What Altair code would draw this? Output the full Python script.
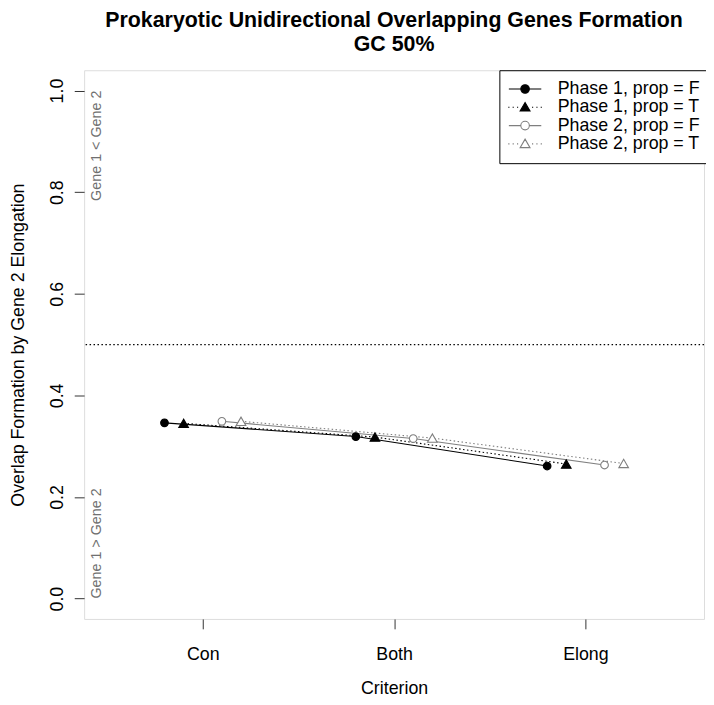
import altair as alt
import pandas as pd

# ---- data ----
criteria = ["Con", "Both", "Elong"]
series_names = ["Phase 1, prop = F", "Phase 1, prop = T", "Phase 2, prop = F", "Phase 2, prop = T"]
phase1_propF = [0.346, 0.319, 0.261]
phase1_propT = [0.345, 0.318, 0.265]
phase2_propF = [0.349, 0.315, 0.263]
phase2_propT = [0.349, 0.316, 0.266]
reference_level = [0.5]
y_ticks = [0.0, 0.2, 0.4, 0.6, 0.8, 1.0]

series_values = [phase1_propF, phase1_propT, phase2_propF, phase2_propT]

# ---- styles ----
FONT = "Liberation Sans"
GRAY = "#7f7f7f"
dodge = [-0.2, -0.1, 0.1, 0.2]
line_colors = ["black", "black", GRAY, GRAY]
dashes = [None, [1.5, 2.5], None, [1.5, 2.5]]
shapes = ["circle", "triangle-up", "circle", "triangle-up"]
fills = ["black", "black", "white", "white"]
sizes = [60, 95, 60, 95]

# legend glyphs: line (solid or dotted) through the marker
solid_seg = "M-4.1,0H-1.1M1.1,0H4.1"
dotted_seg = "M-4.25,0H-3.95M-3.15,0H-2.85M-2.05,0H-1.75M1.75,0H2.05M2.85,0H3.15M3.95,0H4.25"
circ = "M1.08,0A1.08,1.08,0,1,1,-1.08,0A1.08,1.08,0,1,1,1.08,0Z"
tri = "M0,-1.2L1.25,0.95L-1.25,0.95Z"
legend_paths = [solid_seg + circ, dotted_seg + tri, solid_seg + circ, dotted_seg + tri]

rows = []
for s, name in enumerate(series_names):
    for i, crit in enumerate(criteria):
        rows.append({"series": name, "crit": crit, "idx": i + 1,
                     "off": dodge[s], "value": series_values[s][i]})
df = pd.DataFrame(rows)

x_enc = alt.X("xpos:Q",
              scale=alt.Scale(domain=[0.38, 3.62], nice=False, zero=False),
              axis=alt.Axis(values=[1, 2, 3],
                            labelExpr="['', 'Con', 'Both', 'Elong'][datum.value]",
                            title="Criterion", titleFontSize=18, titleFont=FONT,
                            titleFontWeight="normal", titleColor="black",
                            titleY=61, titleBaseline="top",
                            labelFontSize=18, labelFont=FONT, labelColor="black",
                            labelPadding=17, tickSize=10, tickColor="#333",
                            domain=False, grid=False))
y_enc = alt.Y("value:Q",
              scale=alt.Scale(domain=[-0.04, 1.04], nice=False, zero=False),
              axis=alt.Axis(values=y_ticks, format=".1f",
                            labelAngle=270, labelAlign="center", labelBaseline="bottom",
                            labelFontSize=18, labelFont=FONT, labelColor="black",
                            labelPadding=8, tickSize=10, tickColor="#333",
                            domain=False, grid=False,
                            title="Overlap Formation by Gene 2 Elongation",
                            titleFontSize=18, titleFont=FONT, titleFontWeight="normal",
                            titleColor="black", titleAngle=270, titleAlign="center",
                            titleBaseline="bottom", titleX=-57, titleY=277.5))

base = alt.Chart(df).transform_calculate(xpos="datum.idx + datum.off")

layers = []
# reference rule at 0.5
layers.append(
    alt.Chart(pd.DataFrame({"value": reference_level}))
    .mark_rule(color="black", strokeDash=[1.5, 2.5], strokeWidth=1.1)
    .encode(y=y_enc)
)
# lines
for s, name in enumerate(series_names):
    kw = dict(color=line_colors[s], strokeWidth=1.1)
    if dashes[s] is not None:
        kw["strokeDash"] = dashes[s]
    layers.append(
        base.transform_filter(alt.datum.series == name)
        .mark_line(**kw)
        .encode(x=x_enc, y=y_enc, order="idx:Q")
    )
# points
for s, name in enumerate(series_names):
    layers.append(
        base.transform_filter(alt.datum.series == name)
        .mark_point(shape=shapes[s], fill=fills[s], stroke=line_colors[s],
                    strokeWidth=1.1, size=sizes[s], opacity=1, filled=False,
                    fillOpacity=1)
        .encode(x=x_enc, y=y_enc)
    )

# annotations
ann = pd.DataFrame({"t": ["Gene 1 < Gene 2"]})
layers.append(
    alt.Chart(ann).mark_text(angle=270, align="right", baseline="middle",
                             fontSize=14.5, font=FONT, color="#707070")
    .encode(x=alt.datum(0.45), y=alt.datum(1.0), text="t:N")
)
ann2 = pd.DataFrame({"t": ["Gene 1 > Gene 2"]})
layers.append(
    alt.Chart(ann2).mark_text(angle=270, align="left", baseline="middle",
                              fontSize=14.5, font=FONT, color="#707070")
    .encode(x=alt.datum(0.45), y=alt.datum(0.0), text="t:N")
)

# legend layer (draws no marks, only the legend)
leg = alt.Legend(orient="none", legendX=420, legendY=0, title=None,
                 strokeColor="black", fillColor="white", padding=10, cornerRadius=0,
                 labelFontSize=18, labelFont=FONT, labelColor="black",
                 symbolSize=64, symbolStrokeWidth=1.1, symbolOffset=7,
                 labelOffset=24, rowPadding=0.5, symbolOpacity=1, labelLimit=300)
layers.append(
    base.transform_filter("false")
    .mark_point(filled=False)
    .encode(
        x=x_enc, y=y_enc,
        shape=alt.Shape("series:N", scale=alt.Scale(domain=series_names, range=legend_paths), legend=leg),
        fill=alt.Fill("series:N", scale=alt.Scale(domain=series_names, range=fills), legend=leg),
        stroke=alt.Stroke("series:N", scale=alt.Scale(domain=series_names, range=line_colors), legend=leg),
    )
)

chart = alt.layer(*layers).properties(
    width=627, height=555,
    autosize=alt.AutoSizeParams(type="none"),
    padding={"left": 77, "top": 59, "right": 2, "bottom": 75},
    title=alt.TitleParams(
        text=["Prokaryotic Unidirectional Overlapping Genes Formation", "GC 50%"],
        fontSize=21.6, fontWeight="bold", font=FONT, color="black",
        anchor="middle", frame="group", baseline="bottom", offset=11.5, dy=19,
        lineHeight=24),
).configure_view(stroke="#222", strokeWidth=1.2).configure(background="white")

chart.save("out.html", embed_options={"renderer": "svg", "actions": False})
